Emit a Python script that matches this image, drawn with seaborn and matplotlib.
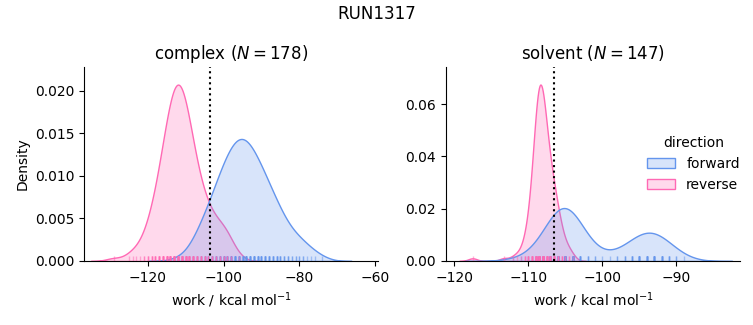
import numpy as np
import pandas as pd
import seaborn as sns
import matplotlib
matplotlib.use("Agg")
import matplotlib.pyplot as plt

# ---- data (work values in kcal/mol and their counts) ----
complex_forward_work = [-112, -109, -108, -107, -106, -105, -104, -103, -102, -101, -100, -99, -98,
                        -97, -96, -95, -94, -93, -92, -91, -90, -89, -88, -87, -86, -85, -84, -83,
                        -82, -81, -80, -79, -78, -77, -76, -74]
complex_forward_count = [1, 1, 2, 2, 3, 4, 4, 5, 6, 7, 8, 8, 9,
                         10, 10, 10, 10, 9, 9, 8, 7, 7, 6, 5, 5, 4, 3, 3,
                         2, 2, 2, 2, 1, 1, 1, 1]

complex_reverse_work = [-129, -125, -124, -123, -122, -121, -120, -119, -118, -117, -116, -115,
                        -114, -113, -112, -111, -110, -109, -108, -107, -106, -105, -104, -103,
                        -102, -101, -100, -99, -98, -96]
complex_reverse_count = [1, 1, 1, 1, 1, 2, 3, 4, 5, 7, 9, 11,
                         13, 15, 15, 15, 13, 11, 9, 7, 6, 5, 4, 4,
                         3, 3, 3, 3, 2, 1]

solvent_forward_work = [-112, -111, -110, -109, -108, -107, -106, -105, -104, -103, -102, -101,
                        -100, -99, -98, -97, -96, -95, -94, -93, -92, -91, -90, -89]
solvent_forward_count = [1, 1, 1, 2, 4, 11, 19, 23, 18, 7, 3, 2,
                         1, 1, 2, 3, 5, 9, 9, 10, 8, 4, 2, 1]

solvent_reverse_work = [-117.5, -113.3, -112.0, -111.5, -111.0, -110.5, -110.0, -109.5, -109.0,
                        -108.5, -108.0, -107.5, -107.0, -106.5, -106.0, -105.5, -105.0, -104.5, -104.0]
solvent_reverse_count = [1, 1, 1, 1, 1, 3, 5, 9, 20,
                         28, 23, 16, 12, 10, 7, 4, 2, 2, 1]

phases = ["complex", "solvent"]
phase_n = [178, 147]
phase_estimate = [-103.5, -106.5]   # dotted vertical lines
directions = ["forward", "reverse"]
colors = ["cornflowerblue", "hotpink"]

rows = []
for phase, direction, work, count in [
    ("complex", "forward", complex_forward_work, complex_forward_count),
    ("complex", "reverse", complex_reverse_work, complex_reverse_count),
    ("solvent", "forward", solvent_forward_work, solvent_forward_count),
    ("solvent", "reverse", solvent_reverse_work, solvent_reverse_count),
]:
    for w in np.repeat(work, count):
        rows.append({"phase": phase, "direction": direction, "work": w})
df = pd.DataFrame(rows)

g = sns.displot(
    data=df, x="work", col="phase", col_order=phases,
    hue="direction", hue_order=directions, palette=dict(zip(directions, colors)),
    kind="kde", fill=True, rug=True, rug_kws=dict(alpha=0.5, linewidth=1),
    facet_kws=dict(sharex=False, sharey=False),
    height=3.25, aspect=1.0,
)

fig = g.figure
fig.set_size_inches(7.53, 3.25)
fig.subplots_adjust(left=0.1116, right=0.983, bottom=0.197, top=0.794, wspace=0.23)

xlims = [(-136.8, -59.2), (-121.1, -81.4)]
for ax, phase, n, est, xl in zip(g.axes.flat, phases, phase_n, phase_estimate, xlims):
    ax.set_title(f"{phase} ($N = {n}$)", fontsize=12)
    ax.axvline(est, color="black", linestyle=":", linewidth=1.5)
    ax.set_xlabel("work / kcal mol$^{-1}$")
    ax.set_xlim(*xl)
g.axes.flat[0].set_ylabel("Density")
g.axes.flat[1].set_ylabel("")

sns.move_legend(g, "upper left", bbox_to_anchor=(0.843, 0.62), frameon=False)
fig.suptitle("RUN1317", y=0.985, fontsize=12)

fig.savefig("out.png", dpi=100)
